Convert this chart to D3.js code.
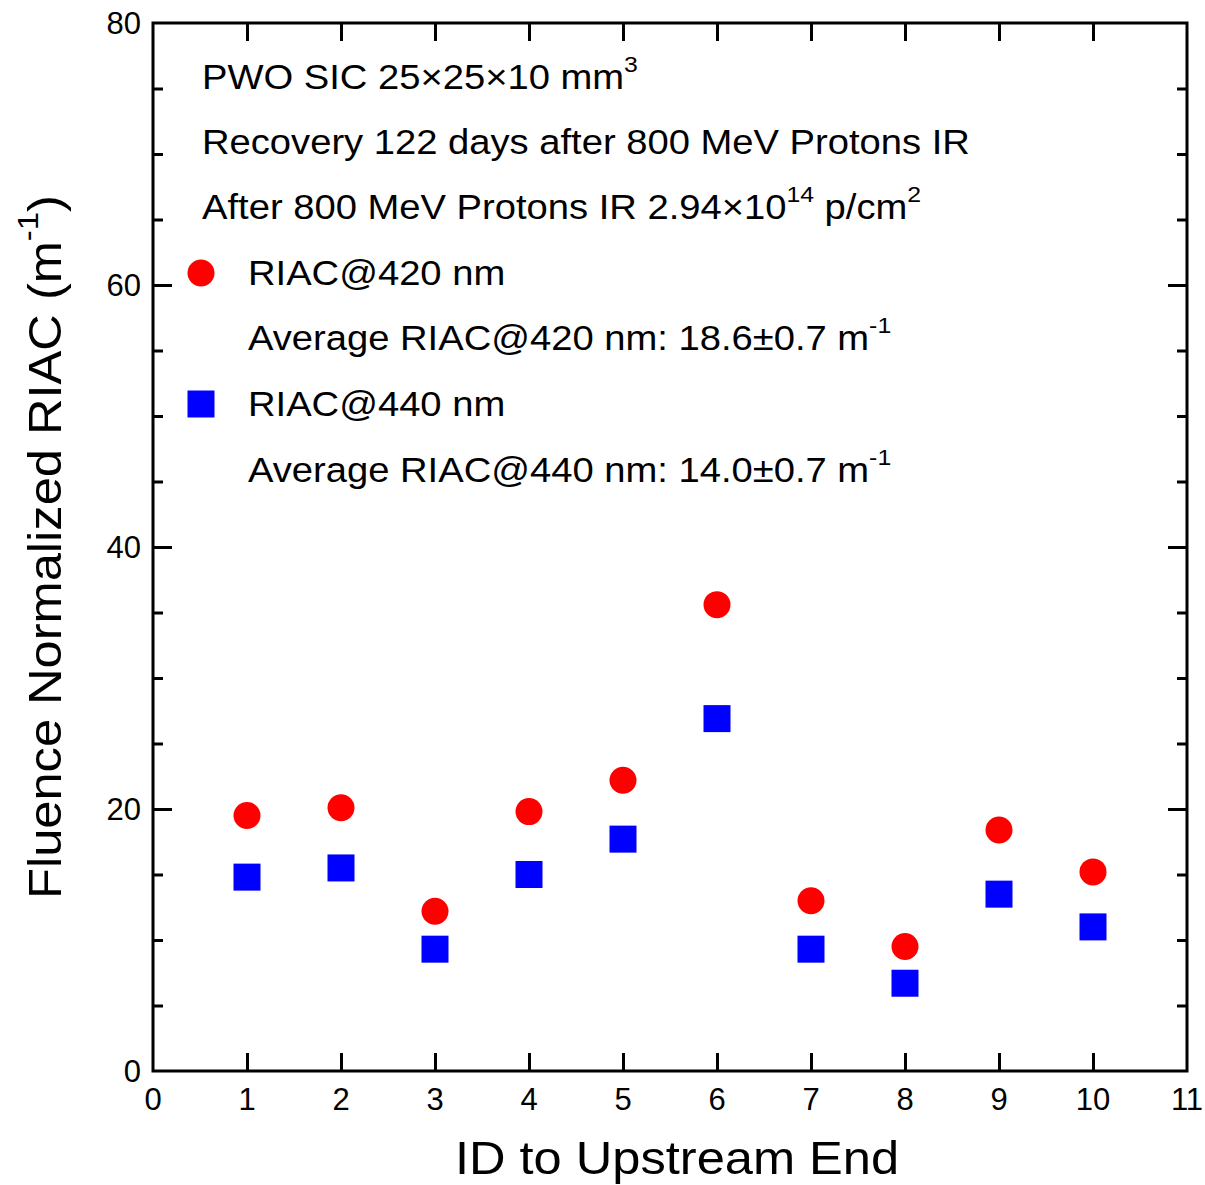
<!DOCTYPE html>
<html lang="en">
  <meta charset="utf-8" />
  <head>
    <title>Fluence Normalized RIAC</title>
    <script src="https://cdn.jsdelivr.net/npm/d3@7"></script>
    <style>
      body { margin: 0; background: #fff; }
      text { font-family: Arial, "Liberation Sans", sans-serif; fill: #000; }
    </style>
  </head>
  <body>
  <script>
    // DATA
    var ids      = [1, 2, 3, 4, 5, 6, 7, 8, 9, 10];
    var riac420  = [19.5, 20.1, 12.2, 19.8, 22.2, 35.6, 13.0, 9.5, 18.4, 15.2];
    var riac440  = [14.8, 15.5, 9.3, 15.0, 17.7, 26.9, 9.3, 6.7, 13.5, 11.0];
    var xTicks   = [0, 1, 2, 3, 4, 5, 6, 7, 8, 9, 10, 11];
    var yTicks   = [0, 20, 40, 60, 80];

    // CONFIG
    var width = 1205, height = 1185;
    var mLeft = 153, mRight = 1187, mTop = 23, mBottom = 1071;
    var fontText = 34.7, stretch = 1.1, fontTick = 31, fontTitle = 46;

    var x = d3.scaleLinear().domain([0, 11]).range([mLeft, mRight]);
    var y = d3.scaleLinear().domain([0, 80]).range([mBottom, mTop]);

    var svg = d3.select("body").append("svg")
        .attr("width", width)
        .attr("height", height);

    // ticks (inside, all four sides)
    var major = 19, minor = 10;
    var yMinor = d3.range(0, 81, 5).filter((v) => v % 20 !== 0);

    svg.append("g").attr("transform", `translate(0,${mBottom})`)
       .call(d3.axisBottom(x).tickValues(ids).tickSize(-18).tickFormat(""));
    svg.append("g").attr("transform", `translate(0,${mTop})`)
       .call(d3.axisTop(x).tickValues(ids).tickSize(-18).tickFormat(""));

    svg.append("g").attr("transform", `translate(${mLeft},0)`)
       .call(d3.axisLeft(y).tickValues(yTicks.slice(1, -1)).tickSize(-major).tickFormat(""));
    svg.append("g").attr("transform", `translate(${mLeft},0)`)
       .call(d3.axisLeft(y).tickValues(yMinor).tickSize(-minor).tickFormat(""));
    svg.append("g").attr("transform", `translate(${mRight},0)`)
       .call(d3.axisRight(y).tickValues(yTicks.slice(1, -1)).tickSize(-major).tickFormat(""));
    svg.append("g").attr("transform", `translate(${mRight},0)`)
       .call(d3.axisRight(y).tickValues(yMinor).tickSize(-minor).tickFormat(""));

    svg.selectAll(".domain").remove();
    svg.selectAll(".tick line").attr("stroke", "#000").attr("stroke-width", 3);

    // frame
    svg.append("rect")
       .attr("x", mLeft).attr("y", mTop)
       .attr("width", mRight - mLeft).attr("height", mBottom - mTop)
       .attr("fill", "none").attr("stroke", "#000").attr("stroke-width", 3);

    // tick labels
    svg.selectAll(".xlab").data(xTicks).enter()
       .append("text")
       .attr("class", "xlab")
       .attr("x", (d) => x(d))
       .attr("y", mBottom + 39)
       .attr("text-anchor", "middle")
       .style("font-size", fontTick + "px")
       .text((d) => d);

    svg.selectAll(".ylab").data(yTicks).enter()
       .append("text")
       .attr("class", "ylab")
       .attr("x", mLeft - 12)
       .attr("y", (d) => y(d) + 11)
       .attr("text-anchor", "end")
       .style("font-size", fontTick + "px")
       .text((d) => d);

    // text with superscripts: parts = [[text, isSup], ...]
    function richText(g, parts, size) {
      var t = g.append("text")
         .attr("x", 0).attr("y", 0)
         .style("font-size", size + "px");
      var raised = false;
      parts.forEach(function (p) {
        var sp = t.append("tspan").text(p[0]);
        if (p[1] && !raised) {
          sp.attr("dy", -size * 0.5).style("font-size", (size * 0.65) + "px");
          raised = true;
        } else if (!p[1] && raised) {
          sp.attr("dy", size * 0.5);
          raised = false;
        } else if (p[1]) {
          sp.style("font-size", (size * 0.65) + "px");
        }
      });
      return t;
    }

    // axis titles
    svg.append("text")
       .attr("transform", `translate(677,1174) scale(${stretch},1)`)
       .attr("text-anchor", "middle")
       .style("font-size", fontTitle + "px")
       .text("ID to Upstream End");

    var yt = richText(svg.append("g").attr("transform", `translate(61,${(mTop + mBottom) / 2}) rotate(-90) scale(${stretch},1)`),
      [["Fluence Normalized RIAC (m"], ["-1", true], [")"]], fontTitle);
    yt.attr("text-anchor", "middle");

    // annotation block
    var ann = svg.append("g");
    var lineY = [89, 154, 219, 285, 350, 416, 482];
    function annLine(px, py, parts) {
      richText(ann.append("g").attr("transform", `translate(${px},${py}) scale(${stretch},1)`), parts, fontText);
    }
    annLine(202, lineY[0], [["PWO SIC 25\u00d725\u00d710 mm"], ["3", true]]);
    annLine(202, lineY[1], [["Recovery 122 days after 800 MeV Protons IR"]]);
    annLine(202, lineY[2], [["After 800 MeV Protons IR 2.94\u00d710"], ["14", true], [" p/cm"], ["2", true]]);
    annLine(248, lineY[3], [["RIAC@420 nm"]]);
    annLine(248, lineY[4], [["Average RIAC@420 nm: 18.6\u00b10.7 m"], ["-1", true]]);
    annLine(248, lineY[5], [["RIAC@440 nm"]]);
    annLine(248, lineY[6], [["Average RIAC@440 nm: 14.0\u00b10.7 m"], ["-1", true]]);

    var r = 13.5, s = 27;
    ann.append("circle").attr("cx", 201).attr("cy", lineY[3] - 12).attr("r", r).attr("fill", "#ff0000");
    ann.append("rect").attr("x", 201 - s / 2).attr("y", lineY[5] - 12 - s / 2)
       .attr("width", s).attr("height", s).attr("fill", "#0000ff");

    // data points
    svg.selectAll(".sq").data(ids).enter()
       .append("rect")
       .attr("class", "sq")
       .attr("x", (d) => x(d) - s / 2)
       .attr("y", (d, i) => y(riac440[i]) - s / 2)
       .attr("width", s).attr("height", s)
       .attr("fill", "#0000ff");

    svg.selectAll(".dot").data(ids).enter()
       .append("circle")
       .attr("class", "dot")
       .attr("cx", (d) => x(d))
       .attr("cy", (d, i) => y(riac420[i]))
       .attr("r", r)
       .attr("fill", "#ff0000");
  </script>
  </body>
</html>
